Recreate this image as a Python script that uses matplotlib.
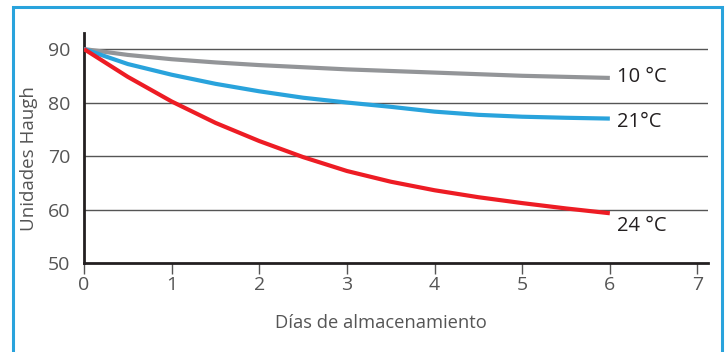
import matplotlib
matplotlib.use("Agg")
import matplotlib.pyplot as plt
from matplotlib.patches import Rectangle

plt.rcParams['font.family'] = ['Open Sans', 'DejaVu Sans']

days = [0, 0.5, 1, 1.5, 2, 2.5, 3, 3.5, 4, 4.5, 5, 5.5, 6]
t10 = [90, 88.9, 88.1, 87.5, 87.0, 86.6, 86.2, 85.9, 85.6, 85.3, 85.0, 84.8, 84.6]
t21 = [90, 87.2, 85.2, 83.5, 82.1, 80.9, 80.0, 79.2, 78.3, 77.7, 77.35, 77.15, 77.0]
t24 = [90, 84.8, 80.2, 76.2, 72.8, 69.8, 67.2, 65.2, 63.6, 62.3, 61.2, 60.2, 59.3]
series_labels = ["10 °C", "21°C", "24 °C"]
label_y = [84.8, 76.4, 56.9]
xticks = [0, 1, 2, 3, 4, 5, 6, 7]
yticks = [50, 60, 70, 80, 90]

fig = plt.figure(figsize=(7.28, 3.52), dpi=100)
fig.patch.set_facecolor('white')
fig.patches.append(Rectangle((12.5/728, -0.05), (722-12.5)/728, 1 - 7/352 + 0.05,
                             transform=fig.transFigure, fill=False,
                             edgecolor='#29a3dc', linewidth=2.2))

ax = fig.add_axes([84/728, 1-263/352, (708-84)/728, (263-33)/352])
ax.set_xlim(0, 7.12)
ax.set_ylim(50, 93)

for y in yticks[1:]:
    ax.axhline(y, color='#555555', linewidth=1.0, zorder=1)

colors = ['#939598', '#29a3dc', '#ed1c24']
for vals, c in zip([t10, t21, t24], colors):
    ax.plot(days, vals, color=c, linewidth=3.0, solid_capstyle='butt', zorder=3)

for lab, ly in zip(series_labels, label_y):
    ax.text(6.08, ly, lab, fontsize=14.5, color='#231f20', va='center', ha='left')

for s in ['top', 'right']:
    ax.spines[s].set_visible(False)
ax.spines['left'].set_linewidth(2)
ax.spines['bottom'].set_linewidth(2)
ax.spines['left'].set_color('#231f20')
ax.spines['bottom'].set_color('#231f20')
ax.spines['left'].set_bounds(50, 93)

ax.set_xticks(xticks)
ax.set_yticks(yticks)
ax.tick_params(axis='x', direction='out', length=8, width=1, color='#555555',
               labelsize=14, labelcolor='#555555', pad=1)
ax.tick_params(axis='y', length=0, labelsize=14, labelcolor='#555555', pad=10)

ax.set_xlabel('Días de almacenamiento', fontsize=13.2, color='#555555')
ax.set_ylabel('Unidades Haugh', fontsize=13.5, color='#555555')
ax.xaxis.set_label_coords(0.476, -0.222)
ax.yaxis.set_label_coords(-0.074, 0.452)

fig.savefig('out.png', dpi=100)
